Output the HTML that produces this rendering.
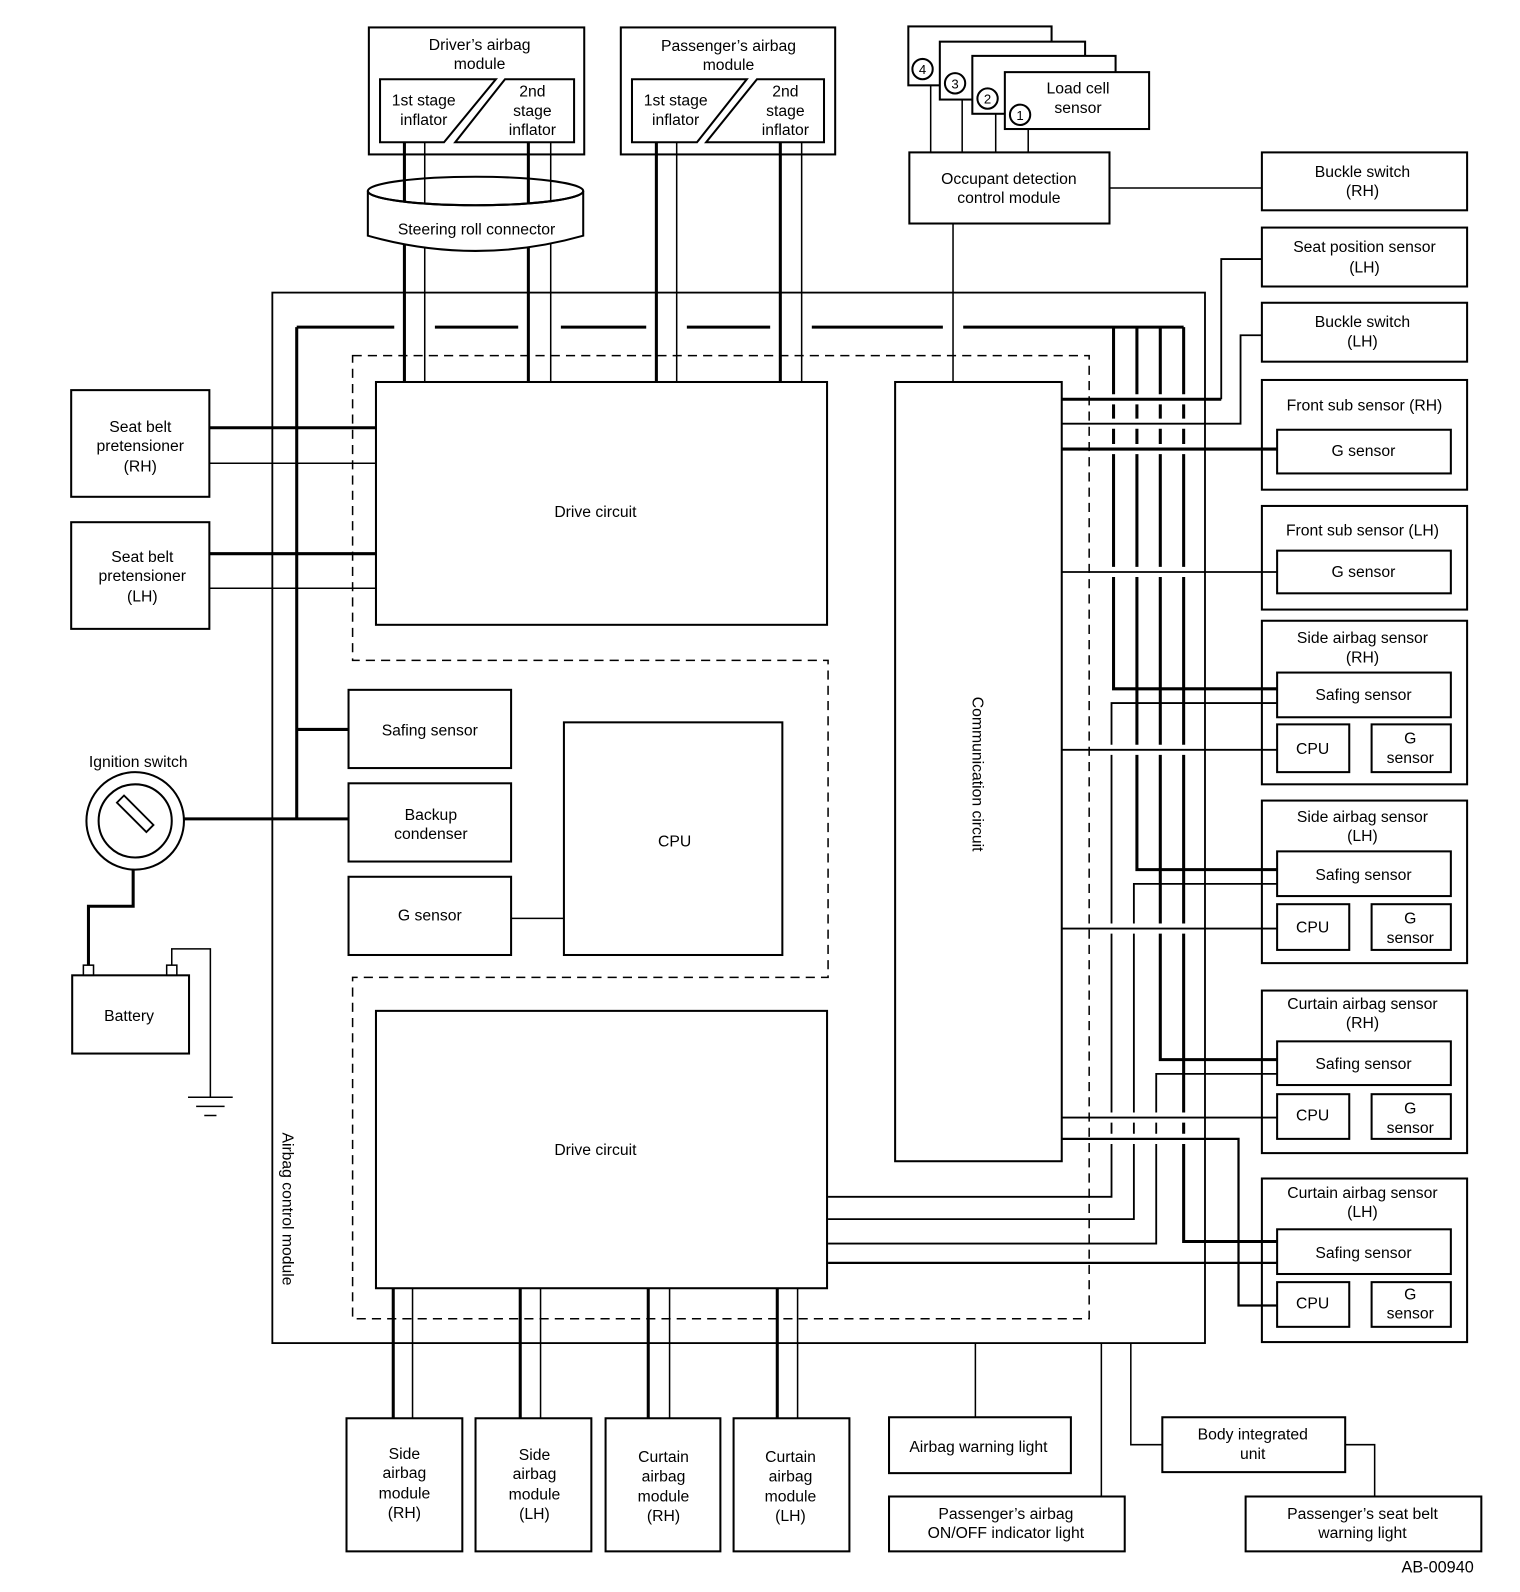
<!DOCTYPE html>
<html><head><meta charset="utf-8"><style>
html,body{margin:0;padding:0;background:#fff}
svg{display:block}
text{font-family:"Liberation Sans",sans-serif;font-size:15.5px;fill:#000;text-anchor:middle}
</style></head><body>
<svg width="1520" height="1592" viewBox="0 0 1496 1567" xmlns="http://www.w3.org/2000/svg">
<g fill="none" stroke="#000" stroke-width="2">
<!-- module border -->
<rect x="268" y="288" width="918" height="1034" stroke-width="1.8"/>
<!-- dashed region -->
<path d="M347 350 H1072 V1298 H347 V962 H815 V650 H347 Z" stroke-width="1.5" stroke-dasharray="9,6"/>
<!-- top modules -->
<rect x="363" y="27" width="212" height="125"/>
<path d="M374 78 H488 L437 140 H374 Z M497 78 H565 V140 H448 Z"/>
<rect x="611" y="27" width="211" height="125"/>
<path d="M622 78 H735 L686 140 H622 Z M745 78 H811 V140 H695 Z"/>
<!-- load cell stack -->
<rect x="894" y="26" width="141" height="58" fill="#fff"/>
<rect x="925" y="41" width="143" height="57" fill="#fff"/>
<rect x="957" y="55" width="141" height="57" fill="#fff"/>
<rect x="989" y="71" width="142" height="56" fill="#fff"/>
<circle cx="908" cy="68" r="10"/><circle cx="940" cy="82" r="10"/><circle cx="972" cy="97" r="10"/><circle cx="1004" cy="113" r="10"/>
<path d="M916 84 V150 M947 98 V150 M980 112 V150 M1012 127 V150" stroke-width="1.5"/>
<rect x="895" y="150" width="197" height="70"/>
<path d="M1092 185 H1242 M938 220 V376" stroke-width="1.5"/>
<!-- right boxes -->
<rect x="1242" y="150" width="202" height="57"/>
<rect x="1242" y="224" width="202" height="58"/>
<rect x="1242" y="298" width="202" height="58"/>
<rect x="1242" y="374" width="202" height="108"/><rect x="1257" y="423" width="171" height="43"/>
<rect x="1242" y="498" width="202" height="102"/><rect x="1257" y="542" width="171" height="42"/>
<rect x="1242" y="611" width="202" height="161"/><rect x="1257" y="662" width="171" height="44"/><rect x="1257" y="713" width="71" height="47"/><rect x="1350" y="713" width="78" height="47"/>
<rect x="1242" y="788" width="202" height="160"/><rect x="1257" y="838" width="171" height="44"/><rect x="1257" y="890" width="71" height="45"/><rect x="1350" y="890" width="78" height="45"/>
<rect x="1242" y="975" width="202" height="160"/><rect x="1257" y="1025" width="171" height="43"/><rect x="1257" y="1077" width="71" height="44"/><rect x="1350" y="1077" width="78" height="44"/>
<rect x="1242" y="1160" width="202" height="161"/><rect x="1257" y="1210" width="171" height="44"/><rect x="1257" y="1262" width="71" height="44"/><rect x="1350" y="1262" width="78" height="44"/>
<!-- inner blocks -->
<rect x="370" y="376" width="444" height="239"/>
<rect x="370" y="995" width="444" height="273"/>
<rect x="881" y="376" width="164" height="767"/>
<rect x="343" y="679" width="160" height="77"/>
<rect x="343" y="771" width="160" height="77"/>
<rect x="343" y="863" width="160" height="77"/>
<rect x="555" y="711" width="215" height="229"/>
<path d="M503 904 H555" stroke-width="1.5"/>
<!-- left boxes -->
<rect x="70" y="384" width="136" height="105"/>
<rect x="70" y="514" width="136" height="105"/>
<path d="M206 421 H370 M206 545 H370" stroke-width="3"/>
<path d="M206 456 H370 M206 579 H370" stroke-width="1.5"/>
<!-- ignition -->
<circle cx="133" cy="808" r="48"/><circle cx="133" cy="808" r="36"/>
<path d="M115 790 L122 783 L151 812 L144 819 Z" stroke-width="1.8"/>
<path d="M181 806 H343 M292 322 V806 M292 718 H343" stroke-width="3"/>
<path d="M131 856 V892 H87 V950" stroke-width="3"/>
<rect x="71" y="960" width="115" height="77"/>
<rect x="82" y="950" width="10" height="10" stroke-width="1.5"/><rect x="164" y="950" width="10" height="10" stroke-width="1.5"/>
<path d="M169 950 V934 H207 V1080 M185 1080 H229 M193 1089 H221 M201 1098 H213" stroke-width="1.5"/>
<!-- top bus -->
<path d="M292 322 H388 M428 322 H510 M552 322 H636 M676 322 H758 M799 322 H928 M948 322 H1165" stroke-width="3"/>
<!-- module verticals -->
<path d="M398 140 V376 M520 140 V376 M646 140 V376 M768 140 V376" stroke-width="3"/>
<path d="M418 140 V376 M542 140 V376 M666 140 V376 M789 140 V376" stroke-width="1.5"/>
<!-- steering roll connector -->
<path d="M362 188 A106 14 0 0 0 574 188 V232 Q468 262 362 232 Z" fill="#fff"/>
<ellipse cx="468" cy="188" rx="106" ry="14"/>
<!-- right bus verticals -->
<path d="M1096 322 V678 H1257 M1119 322 V856 H1257 M1142 322 V1043 H1257 M1165 322 V1222 H1257" stroke-width="3"/>
<path d="M1257 692 H1094 V1178 H815 M1257 870 H1116 V1200 H815 M1257 1057 H1138 V1224 H815" stroke-width="1.8"/>
<path d="M815 1243 H1257" stroke-width="2.2"/>
<!-- comm lines with gaps -->
<g stroke="#fff" stroke-width="10">
<path d="M1088 393 H1172 M1088 417 H1172 M1088 442 H1172 M1088 563 H1172 M1088 738 H1172 M1088 914 H1172 M1088 1100 H1172 M1088 1121 H1172"/>
</g>
<path d="M1045 393 H1202" stroke-width="3"/>
<path d="M1202 393 V255 H1242" stroke-width="1.8"/>
<path d="M1045 417 H1221 V330 H1242" stroke-width="1.8"/>
<path d="M1045 442 H1257" stroke-width="3"/>
<path d="M1045 563 H1257 M1045 738 H1257 M1045 914 H1257 M1045 1100 H1257" stroke-width="1.8"/>
<path d="M1045 1121 H1219 V1285 H1257" stroke-width="2.2"/>
<!-- bottom -->
<path d="M387 1268 V1396 M512 1268 V1396 M638 1268 V1396 M765 1268 V1396" stroke-width="3"/>
<path d="M406 1268 V1396 M532 1268 V1396 M659 1268 V1396 M785 1268 V1396" stroke-width="1.5"/>
<rect x="341" y="1396" width="114" height="131"/>
<rect x="468" y="1396" width="114" height="131"/>
<rect x="596" y="1396" width="113" height="131"/>
<rect x="722" y="1396" width="114" height="131"/>
<rect x="875" y="1395" width="179" height="55"/>
<rect x="875" y="1473" width="232" height="54"/>
<rect x="1144" y="1395" width="180" height="54"/>
<rect x="1226" y="1473" width="232" height="54"/>
<path d="M960 1322 V1395 M1084 1322 V1473 M1113 1322 V1422 H1144 M1324 1422 H1353 V1473" stroke-width="1.5"/>
</g>
<g>
<text x="472" y="49">Driver’s airbag</text><text x="472" y="68">module</text>
<text x="417" y="104">1st stage</text><text x="417" y="123">inflator</text>
<text x="524" y="95">2nd</text><text x="524" y="114">stage</text><text x="524" y="133">inflator</text>
<text x="717" y="50">Passenger’s airbag</text><text x="717" y="69">module</text>
<text x="665" y="104">1st stage</text><text x="665" y="123">inflator</text>
<text x="773" y="95">2nd</text><text x="773" y="114">stage</text><text x="773" y="133">inflator</text>
<text x="469" y="231">Steering roll connector</text>
<text x="1061" y="92">Load cell</text><text x="1061" y="111">sensor</text>
<text x="908" y="73" style="font-size:13px">4</text><text x="940" y="87" style="font-size:13px">3</text><text x="972" y="102" style="font-size:13px">2</text><text x="1004" y="118" style="font-size:13px">1</text>
<text x="993" y="181">Occupant detection</text><text x="993" y="200">control module</text>
<text x="1341" y="174">Buckle switch</text><text x="1341" y="193">(RH)</text>
<text x="1343" y="248">Seat position sensor</text><text x="1343" y="268">(LH)</text>
<text x="1341" y="322">Buckle switch</text><text x="1341" y="341">(LH)</text>
<text x="1343" y="404">Front sub sensor (RH)</text><text x="1342" y="449">G sensor</text>
<text x="1341" y="527">Front sub sensor (LH)</text><text x="1342" y="568">G sensor</text>
<text x="1341" y="633">Side airbag sensor</text><text x="1341" y="652">(RH)</text>
<text x="1342" y="689">Safing sensor</text><text x="1292" y="742">CPU</text><text x="1388" y="732">G</text><text x="1388" y="751">sensor</text>
<text x="1341" y="809">Side airbag sensor</text><text x="1341" y="828">(LH)</text>
<text x="1342" y="866">Safing sensor</text><text x="1292" y="918">CPU</text><text x="1388" y="909">G</text><text x="1388" y="928">sensor</text>
<text x="1341" y="993">Curtain airbag sensor</text><text x="1341" y="1012">(RH)</text>
<text x="1342" y="1052">Safing sensor</text><text x="1292" y="1103">CPU</text><text x="1388" y="1096">G</text><text x="1388" y="1115">sensor</text>
<text x="1341" y="1179">Curtain airbag sensor</text><text x="1341" y="1198">(LH)</text>
<text x="1342" y="1238">Safing sensor</text><text x="1292" y="1288">CPU</text><text x="1388" y="1279">G</text><text x="1388" y="1298">sensor</text>
<text x="138" y="425">Seat belt</text><text x="138" y="444">pretensioner</text><text x="138" y="464">(RH)</text>
<text x="140" y="553">Seat belt</text><text x="140" y="572">pretensioner</text><text x="140" y="592">(LH)</text>
<text x="136" y="755">Ignition switch</text>
<text x="127" y="1005">Battery</text>
<text x="586" y="509">Drive circuit</text>
<text x="586" y="1137">Drive circuit</text>
<text x="423" y="724">Safing sensor</text>
<text x="424" y="807">Backup</text><text x="424" y="826">condenser</text>
<text x="423" y="906">G sensor</text>
<text x="664" y="833">CPU</text>
<text transform="translate(957,762) rotate(90)">Communication circuit</text>
<text transform="translate(278,1190) rotate(90)">Airbag control module</text>
<text x="398" y="1436">Side</text><text x="398" y="1455">airbag</text><text x="398" y="1475">module</text><text x="398" y="1494">(RH)</text>
<text x="526" y="1437">Side</text><text x="526" y="1456">airbag</text><text x="526" y="1476">module</text><text x="526" y="1495">(LH)</text>
<text x="653" y="1439">Curtain</text><text x="653" y="1458">airbag</text><text x="653" y="1478">module</text><text x="653" y="1497">(RH)</text>
<text x="778" y="1439">Curtain</text><text x="778" y="1458">airbag</text><text x="778" y="1478">module</text><text x="778" y="1497">(LH)</text>
<text x="963" y="1429">Airbag warning light</text>
<text x="990" y="1495">Passenger’s airbag</text><text x="990" y="1514">ON/OFF indicator light</text>
<text x="1233" y="1417">Body integrated</text><text x="1233" y="1436">unit</text>
<text x="1341" y="1495">Passenger’s seat belt</text><text x="1341" y="1514">warning light</text>
<text x="1415" y="1548" style="font-size:16px">AB-00940</text>
</g>
</svg>
</body></html>
